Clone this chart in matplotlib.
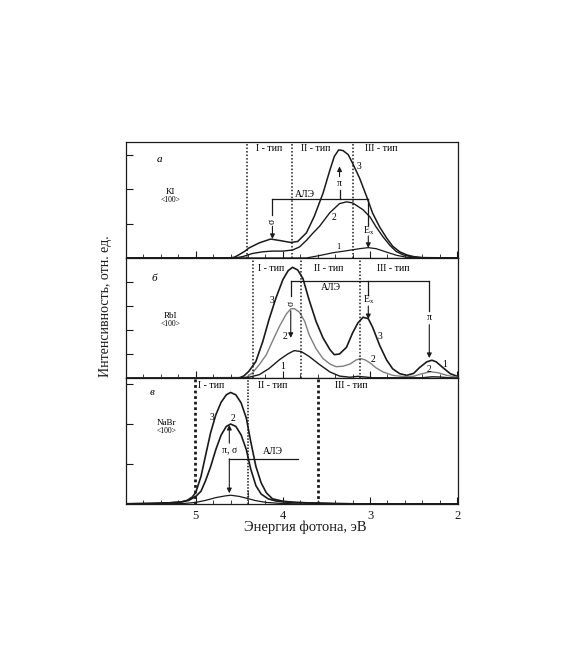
import matplotlib.pyplot as plt
from matplotlib.ticker import MultipleLocator

plt.rcParams['font.family'] = ['Liberation Serif', 'DejaVu Serif']

# --- KI <100> (панель а) ---
ki_e3 = [5.8, 4.60, 4.55, 4.50, 4.44, 4.39, 4.27, 4.14, 4.02, 3.91, 3.83, 3.73, 3.64, 3.54,
         3.46, 3.41, 3.36, 3.31, 3.25, 3.20, 3.12, 3.04, 2.97, 2.89, 2.81, 2.74, 2.66, 2.58,
         2.50, 2.39, 2.0]
ki_i3 = [0, 0, 0.03, 0.10, 0.19, 0.29, 0.44, 0.55, 0.50, 0.45, 0.48, 0.73, 1.21, 1.88,
         2.56, 2.95, 3.14, 3.12, 3.00, 2.75, 2.32, 1.79, 1.30, 0.90, 0.58, 0.34, 0.18, 0.09,
         0.04, 0.01, 0]
ki_e2 = [5.8, 4.55, 4.46, 4.35, 4.23, 4.12, 4.00, 3.89, 3.81, 3.73, 3.66, 3.58, 3.46, 3.35,
         3.27, 3.20, 3.08, 3.00, 2.93, 2.85, 2.77, 2.70, 2.62, 2.50, 2.39, 2.0]
ki_i2 = [0, 0, 0.04, 0.13, 0.18, 0.20, 0.20, 0.23, 0.32, 0.51, 0.71, 0.92, 1.32, 1.58,
         1.63, 1.60, 1.40, 1.19, 0.90, 0.61, 0.36, 0.19, 0.09, 0.02, 0, 0]
ki_e1 = [5.8, 3.73, 3.58, 3.43, 3.27, 3.12, 3.02, 2.93, 2.81, 2.70, 2.58, 2.47, 2.0]
ki_i1 = [0, 0, 0.07, 0.15, 0.21, 0.27, 0.30, 0.27, 0.17, 0.08, 0.02, 0, 0]
ki_types = [4.41, 3.89, 3.20]

# --- RbI <100> (панель б) ---
rbi_e3 = [5.8, 4.50, 4.45, 4.39, 4.31, 4.23, 4.16, 4.08, 4.00, 3.94, 3.89, 3.83, 3.77, 3.70,
          3.62, 3.54, 3.46, 3.41, 3.35, 3.27, 3.20, 3.14, 3.08, 3.02, 2.97, 2.89, 2.81, 2.74,
          2.66, 2.58, 2.50, 2.43, 2.35, 2.29, 2.24, 2.16, 2.08, 2.0]
rbi_i3 = [0, 0.01, 0.08, 0.28, 0.69, 1.53, 2.43, 3.33, 4.10, 4.47, 4.61, 4.50, 4.14, 3.26,
          2.36, 1.67, 1.18, 0.97, 1.00, 1.28, 1.88, 2.29, 2.53, 2.47, 2.11, 1.36, 0.75, 0.38,
          0.18, 0.11, 0.19, 0.44, 0.67, 0.74, 0.67, 0.42, 0.18, 0.07]
rbi_e2 = [5.8, 4.50, 4.42, 4.35, 4.27, 4.19, 4.12, 4.04, 3.96, 3.91, 3.87, 3.81, 3.75, 3.70,
          3.62, 3.54, 3.46, 3.39, 3.31, 3.23, 3.16, 3.11, 3.06, 3.00, 2.93, 2.85, 2.74, 2.62,
          2.50, 2.41, 2.31, 2.22, 2.12, 2.0]
rbi_i2 = [0, 0, 0.03, 0.21, 0.56, 0.97, 1.53, 2.15, 2.67, 2.88, 2.89, 2.74, 2.36, 1.81,
          1.22, 0.81, 0.58, 0.47, 0.49, 0.58, 0.75, 0.81, 0.76, 0.63, 0.42, 0.25, 0.11, 0.06,
          0.07, 0.17, 0.26, 0.22, 0.11, 0.03]
rbi_e1 = [5.8, 4.50, 4.39, 4.27, 4.16, 4.04, 3.94, 3.87, 3.79, 3.70, 3.58, 3.46, 3.35, 3.23,
          3.14, 3.06, 2.97, 2.40, 2.29, 2.20, 2.10, 2.0]
rbi_i1 = [0, 0, 0.03, 0.14, 0.39, 0.76, 1.01, 1.14, 1.10, 0.90, 0.56, 0.25, 0.08, 0.03,
          0.07, 0.04, 0.01, 0.01, 0.05, 0.04, 0.01, 0]
rbi_types = [4.34, 3.79, 3.11]

# --- NaBr <100> (панель в) ---
nabr_e3 = [5.8, 5.5, 5.3, 5.17, 5.10, 5.04, 5.00, 4.94, 4.89, 4.83, 4.77, 4.71, 4.65, 4.60,
           4.54, 4.48, 4.42, 4.37, 4.31, 4.25, 4.19, 4.12, 4.00, 3.85, 3.66, 3.40, 3.0, 2.0]
nabr_i3 = [0.005, 0.015, 0.03, 0.05, 0.09, 0.175, 0.29, 0.69, 1.19, 1.78, 2.23, 2.54, 2.73,
           2.79, 2.73, 2.53, 2.15, 1.57, 0.94, 0.53, 0.28, 0.13, 0.07, 0.04, 0.025, 0.01, 0, 0]
nabr_e2 = [5.8, 5.5, 5.3, 5.17, 5.08, 5.00, 4.94, 4.89, 4.83, 4.77, 4.71, 4.65, 4.60, 4.54,
           4.48, 4.42, 4.37, 4.31, 4.25, 4.17, 4.08, 3.93, 3.66, 3.40, 3.0, 2.0]
nabr_i2 = [0.005, 0.015, 0.03, 0.05, 0.09, 0.19, 0.32, 0.57, 0.93, 1.36, 1.72, 1.94, 2.00,
           1.94, 1.73, 1.36, 0.88, 0.46, 0.25, 0.13, 0.075, 0.04, 0.025, 0.01, 0, 0]
nabr_e1 = [5.8, 5.3, 5.12, 5.00, 4.89, 4.77, 4.67, 4.60, 4.50, 4.41, 4.31, 4.19, 4.04, 3.81, 2.0]
nabr_i1 = [0.0, 0.005, 0.017, 0.04, 0.09, 0.16, 0.20, 0.22, 0.19, 0.14, 0.083, 0.04, 0.017, 0, 0]
nabr_types = [5.01, 4.40, 3.60]

type_labels = ['I - тип', 'II - тип', 'III - тип']

fig = plt.figure(figsize=(5.73, 6.48), dpi=100)
ax1 = fig.add_axes([0.220, 0.6019, 0.5794, 0.1790])
ax2 = fig.add_axes([0.220, 0.4167, 0.5794, 0.1852])
ax3 = fig.add_axes([0.220, 0.2222, 0.5794, 0.1944])

lc = '#1a1a1a'
for ax, ymax, yt in [(ax1, 3.37, [1, 2, 3]), (ax2, 5.0, [1, 2, 3, 4]), (ax3, 3.15, [1, 2, 3])]:
    ax.set_xlim(5.8, 1.99)
    ax.set_ylim(0, ymax)
    ax.set_yticks(yt)
    ax.set_yticklabels([])
    ax.xaxis.set_major_locator(MultipleLocator(1))
    ax.xaxis.set_minor_locator(MultipleLocator(0.2))
    ax.tick_params(axis='both', which='major', direction='in', length=5, width=0.8, colors=lc)
    ax.tick_params(axis='x', which='minor', direction='in', length=3, width=0.6, colors=lc)
    for s in ax.spines.values():
        s.set_linewidth(0.9)
        s.set_color(lc)
ax1.set_xticklabels([])
ax2.set_xticklabels([])
ax3.tick_params(axis='x', labelsize=9, pad=4)

def arrow(ax, x, y0, y1):
    ax.annotate('', xy=(x, y1), xytext=(x, y0),
                arrowprops=dict(arrowstyle='-|>', color=lc, lw=0.8, mutation_scale=7,
                                shrinkA=0, shrinkB=0))

tfs = 7
sfs = 6.5   # подписи образцов
mfs = 5.5   # <100>

# панель а
ax1.plot(ki_e3, ki_i3, color=lc, lw=1.1)
ax1.plot(ki_e2, ki_i2, color=lc, lw=1.0)
ax1.plot(ki_e1, ki_i1, color=lc, lw=0.9)
for xv in ki_types:
    ax1.axvline(xv, color=lc, lw=1.1, ls=(0, (1, 1.3)))
for xv, lab in zip([4.16, 3.62, 2.87], type_labels):
    ax1.text(xv, 3.19, lab, ha='center', va='center', fontsize=tfs)
ax1.text(5.42, 2.85, 'а', fontsize=8, style='italic', ha='center', va='center')
ax1.text(5.29, 1.93, 'KI', fontsize=sfs, ha='center', va='center')
ax1.text(5.29, 1.68, '<100>', fontsize=mfs, ha='center', va='center')
ax1.text(3.13, 2.66, '3', fontsize=7, ha='center', va='center')
ax1.text(3.41, 1.17, '2', fontsize=7, ha='center', va='center')
ax1.text(3.36, 0.33, '1', fontsize=6, ha='center', va='center')
ax1.plot([4.12, 3.02], [1.72, 1.72], color=lc, lw=0.9)
ax1.plot([4.12, 4.12], [1.72, 1.26], color=lc, lw=0.9)
ax1.text(4.12, 1.07, 'σ', fontsize=7, rotation=90, ha='center', va='center')
arrow(ax1, 4.12, 0.92, 0.55)
ax1.plot([3.35, 3.35], [1.72, 1.98], color=lc, lw=0.9)
ax1.text(3.35, 2.17, 'π', fontsize=7, ha='center', va='center')
arrow(ax1, 3.35, 2.36, 2.66)
ax1.plot([3.02, 3.02], [1.72, 0.97], color=lc, lw=0.9)
ax1.text(3.02, 0.80, 'E$_\\mathregular{x}$', fontsize=7, ha='center', va='center')
arrow(ax1, 3.02, 0.64, 0.29)
ax1.text(3.75, 1.83, 'АЛЭ', fontsize=7, ha='center', va='center')

# панель б
ax2.plot(rbi_e3, rbi_i3, color=lc, lw=1.2)
ax2.plot(rbi_e2, rbi_i2, color='#7f7f7f', lw=1.0)
ax2.plot(rbi_e1, rbi_i1, color=lc, lw=1.0)
for xv in rbi_types:
    ax2.axvline(xv, color=lc, lw=1.1, ls=(0, (1, 1.3)))
for xv, lab in zip([4.14, 3.48, 2.73], type_labels):
    ax2.text(xv, 4.58, lab, ha='center', va='center', fontsize=tfs)
ax2.text(5.48, 4.15, 'б', fontsize=8, style='italic', ha='center', va='center')
ax2.text(5.29, 2.60, 'RbI', fontsize=sfs, ha='center', va='center')
ax2.text(5.29, 2.24, '<100>', fontsize=mfs, ha='center', va='center')
ax2.text(4.13, 3.22, '3', fontsize=7, ha='center', va='center')
ax2.text(3.98, 1.74, '2', fontsize=7, ha='center', va='center')
ax2.text(4.00, 0.49, '1', fontsize=7, ha='center', va='center')
ax2.text(2.89, 1.74, '3', fontsize=7, ha='center', va='center')
ax2.text(2.965, 0.76, '2', fontsize=7, ha='center', va='center')
ax2.text(2.14, 0.58, '1', fontsize=7, ha='center', va='center')
ax2.text(2.32, 0.35, '2', fontsize=7, ha='center', va='center')
ax2.plot([3.91, 2.32], [4.05, 4.05], color=lc, lw=0.9)
ax2.plot([3.91, 3.91], [4.05, 3.40], color=lc, lw=0.9)
ax2.text(3.91, 3.12, 'σ', fontsize=7, rotation=90, ha='center', va='center')
arrow(ax2, 3.91, 2.80, 1.67)
ax2.plot([3.02, 3.02], [4.05, 3.47], color=lc, lw=0.9)
ax2.text(3.02, 3.26, 'E$_\\mathregular{x}$', fontsize=7, ha='center', va='center')
arrow(ax2, 3.02, 3.00, 2.45)
ax2.plot([2.32, 2.32], [4.05, 2.78], color=lc, lw=0.9)
ax2.text(2.32, 2.50, 'π', fontsize=7, ha='center', va='center')
arrow(ax2, 2.32, 2.22, 0.83)
ax2.text(3.445, 3.75, 'АЛЭ', fontsize=7, ha='center', va='center')

# панель в
ax3.plot(nabr_e3, nabr_i3, color=lc, lw=1.2)
ax3.plot(nabr_e2, nabr_i2, color=lc, lw=1.2)
ax3.plot(nabr_e1, nabr_i1, color=lc, lw=0.9)
for xv, w in zip(nabr_types, [2.0, 1.1, 2.0]):
    ax3.axvline(xv, color=lc, lw=w, ls=(0, (1, 1.0)))
for xv, lab in zip([4.82, 4.12, 3.21], type_labels):
    ax3.text(xv, 2.96, lab, ha='center', va='center', fontsize=tfs)
ax3.text(5.50, 2.78, 'в', fontsize=8, style='italic', ha='center', va='center')
ax3.text(5.33, 2.03, 'NaBr', fontsize=sfs, ha='center', va='center')
ax3.text(5.33, 1.82, '<100>', fontsize=mfs, ha='center', va='center')
ax3.text(4.82, 2.17, '3', fontsize=7, ha='center', va='center')
ax3.text(4.578, 2.13, '2', fontsize=7, ha='center', va='center')
ax3.text(4.405, 0.22, '1', fontsize=6, ha='center', va='center')
arrow(ax3, 4.615, 1.52, 1.98)
ax3.text(4.61, 1.34, 'π, σ', fontsize=7, ha='center', va='center')
ax3.plot([4.615, 3.83], [1.13, 1.13], color=lc, lw=0.9)
arrow(ax3, 4.615, 1.13, 0.27)
ax3.text(4.12, 1.32, 'АЛЭ', fontsize=7, ha='center', va='center')

fig.text(305 / 573, 1 - 527 / 648, 'Энергия фотона, эВ', fontsize=10.5,
         ha='center', va='center', color=lc)
fig.text(105 / 573, 1 - 306 / 648, 'Интенсивность, отн. ед.', fontsize=10,
         rotation=90, ha='center', va='center', color=lc)

fig.savefig('out.png', dpi=100, facecolor='white')
